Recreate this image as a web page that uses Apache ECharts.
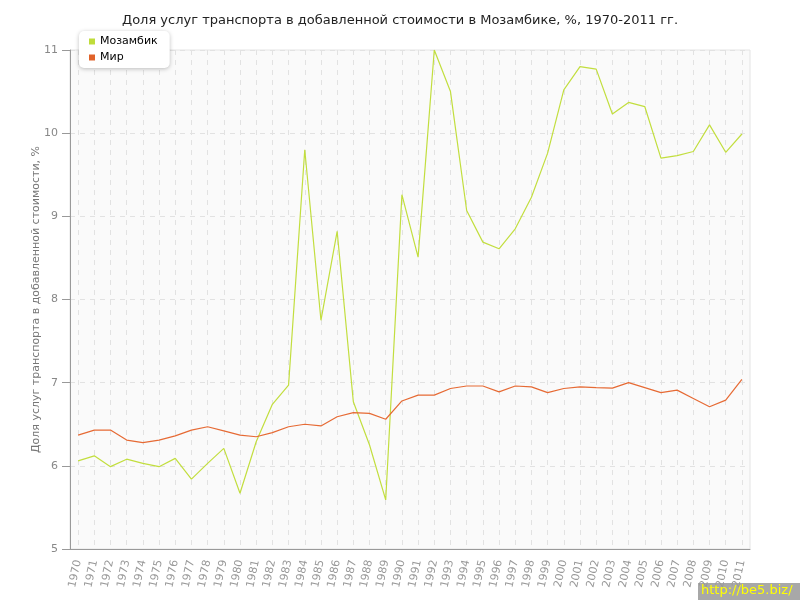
<!DOCTYPE html>
<html><head><meta charset="utf-8">
<script src="https://cdn.jsdelivr.net/npm/echarts@6/dist/echarts.min.js"></script>
<style>html,body{margin:0;padding:0;background:#fff}#c{width:800px;height:600px}</style>
</head><body><div id="c"></div>
<script>
const years = [];
for (let y = 1970; y <= 2011; y++) years.push(String(y));
const mozambique = [6.06,6.12,5.99,6.08,6.03,5.99,6.09,5.84,6.03,6.21,5.67,6.29,6.74,6.97,9.80,7.75,8.82,6.77,6.25,5.59,9.26,8.51,11.0,10.50,9.07,8.69,8.61,8.85,9.23,9.76,10.52,10.80,10.77,10.23,10.37,10.32,9.70,9.73,9.78,10.10,9.77,9.99];
const world = [6.37,6.43,6.43,6.31,6.28,6.31,6.36,6.43,6.47,6.42,6.37,6.35,6.40,6.47,6.50,6.48,6.59,6.64,6.63,6.56,6.78,6.85,6.85,6.93,6.96,6.96,6.89,6.96,6.95,6.88,6.93,6.95,6.94,6.935,7.00,6.94,6.88,6.91,6.81,6.71,6.79,7.04];
const seriesNames = ['Мозамбик','Мир'];
const title = 'Доля услуг транспорта в добавленной стоимости в Мозамбике, %, 1970-2011 гг.';
const yName = 'Доля услуг транспорта в добавленной стоимости, %';

const chart = echarts.init(document.getElementById('c'), null, {renderer:'canvas'});
const font = 'DejaVu Sans';
chart.setOption({
  animation:false,
  backgroundColor:'#fff',
  title:{text:title,left:'center',top:9,textStyle:{fontFamily:font,fontSize:13,fontWeight:'normal',color:'#222'}},
  legend:{data:seriesNames,orient:'vertical',left:79,top:31,icon:'rect',itemWidth:6,itemHeight:6,itemGap:5,
    backgroundColor:'#fff',borderRadius:5,padding:[5,12,5,10],shadowColor:'rgba(0,0,0,0.25)',shadowBlur:4,shadowOffsetY:1,
    textStyle:{fontFamily:font,fontSize:11,color:'#000'}},
  grid:{left:70,right:50,top:50,bottom:51,show:true,backgroundColor:'#fafafa',borderColor:'#e4e4e4',borderWidth:1},
  xAxis:{type:'category',data:years,boundaryGap:true,
    axisLine:{lineStyle:{color:'#999'}},
    axisTick:{alignWithLabel:true,length:5,lineStyle:{color:'#999'}},
    axisLabel:{interval:0,rotate:78,fontFamily:font,fontSize:11,color:'#999',margin:11},
    splitLine:{show:true,interval:0,alignWithLabel:true,lineStyle:{color:'#e2e2e2',type:[5,5]}}},
  yAxis:{type:'value',min:5,max:11,interval:1,name:yName,nameLocation:'middle',nameGap:28,nameMoveOverlap:false,
    nameTextStyle:{fontFamily:font,fontSize:11,color:'#777'},
    axisLine:{show:true,lineStyle:{color:'#999'}},
    axisTick:{show:true,length:8,lineStyle:{color:'#999'}},
    axisLabel:{fontFamily:font,fontSize:11,color:'#888',margin:12},
    splitLine:{lineStyle:{color:'#e2e2e2',type:[5,5]}}},
  series:[
    {name:seriesNames[0],type:'line',data:mozambique,showSymbol:false,symbol:'none',color:'#bfdc3a',lineStyle:{width:1.2,color:'#c2de3e'}},
    {name:seriesNames[1],type:'line',data:world,showSymbol:false,symbol:'none',color:'#e0622a',lineStyle:{width:1.2,color:'#e66a34'}}
  ],
  graphic:[{type:'group',right:0,bottom:0,children:[
    {type:'rect',shape:{x:0,y:0,width:102,height:17},style:{fill:'#a8a8a8'}},
    {type:'text',x:3,y:1,style:{text:'http://be5.biz/',fill:'#ffff00',font:'13px DejaVu Sans'}}
  ]}]
});
</script></body></html>
